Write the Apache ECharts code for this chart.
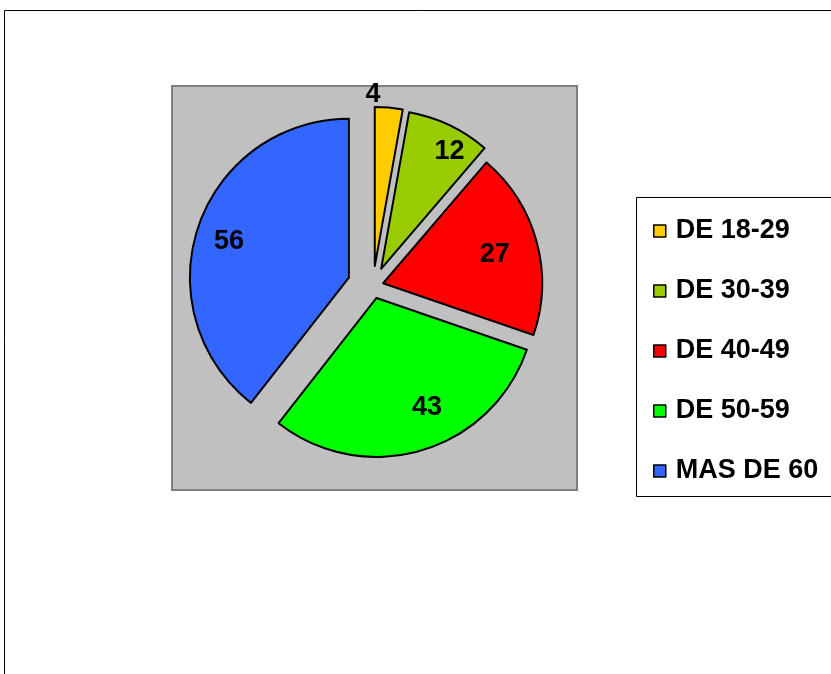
<!DOCTYPE html>
<html>
<head>
<meta charset="utf-8">
<script src="https://cdn.jsdelivr.net/npm/echarts@6/dist/echarts.min.js"></script>
<style>
html,body{margin:0;padding:0;background:#fff;}
#chart{width:831px;height:674px;}
</style>
</head>
<body>
<div id="chart"></div>
<script>
// Data
const categories = ['DE 18-29', 'DE 30-39', 'DE 40-49', 'DE 50-59', 'MAS DE 60'];
const values = [4, 12, 27, 43, 56];
// Styles (not data)
const colors = ['#FFCC00', '#99CC00', '#FF0000', '#00FF00', '#3366FF'];
const explodeOffsets = [20, 19, 10.5, 12.5, 25.5];
const labelNudges = [[-9, -89], [33, -43], [32, -7], [27, 30], [-42, -9]];

const chart = echarts.init(document.getElementById('chart'), null, {renderer: 'canvas'});
const FONT = '"Liberation Sans", Arial, sans-serif';

// one pie series per slice, so each slice can be pulled out by its own amount
const series = categories.map((cat, k) => ({
  type: 'pie',
  name: cat,
  center: [373, 286],
  radius: 159,
  startAngle: 90,
  clockwise: true,
  selectedMode: 'multiple',
  selectedOffset: explodeOffsets[k],
  avoidLabelOverlap: false,
  emphasis: {disabled: true},
  labelLine: {show: false},
  label: {
    show: true,
    position: 'inner',
    formatter: '{c}',
    fontFamily: FONT,
    fontSize: 27,
    fontWeight: 'bold',
    color: '#000'
  },
  labelLayout: function (params) {
    const n = labelNudges[params.dataIndex];
    return {dx: n[0], dy: n[1]};
  },
  data: categories.map((c, i) => i === k ? {
    name: c, value: values[i], selected: true,
    itemStyle: {color: colors[i], borderColor: '#000', borderWidth: 2},
    select: {itemStyle: {color: colors[i], borderColor: '#000', borderWidth: 2}}
  } : {
    name: c, value: values[i],
    itemStyle: {color: 'rgba(0,0,0,0)', borderWidth: 0},
    label: {show: false}
  })
}));

chart.setOption({
  animation: false,
  backgroundColor: '#ffffff',
  graphic: [
    {type: 'rect', z: -10, shape: {x: 4.5, y: 10.5, width: 1000, height: 1000},
     style: {fill: '#ffffff', stroke: '#000000', lineWidth: 1}},
    {type: 'rect', z: -9, shape: {x: 172, y: 86, width: 405, height: 404},
     style: {fill: '#C0C0C0', stroke: '#808080', lineWidth: 2}},
    {type: 'rect', z: -9, shape: {x: 636.5, y: 197.5, width: 300, height: 299},
     style: {fill: '#ffffff', stroke: '#000000', lineWidth: 1}}
  ],
  legend: {
    orient: 'vertical',
    left: 653,
    top: 216,
    padding: 0,
    icon: 'rect',
    itemWidth: 12,
    itemHeight: 12,
    itemGap: 30,
    selectedMode: false,
    data: categories.map((c, i) => ({
      name: c,
      itemStyle: {color: colors[i], borderColor: '#000', borderWidth: 1.5}
    })),
    textStyle: {fontFamily: FONT, fontSize: 27, fontWeight: 'bold', color: '#000', lineHeight: 30, padding: [0, 0, 0, 5]}
  },
  series: series
});
</script>
</body>
</html>
